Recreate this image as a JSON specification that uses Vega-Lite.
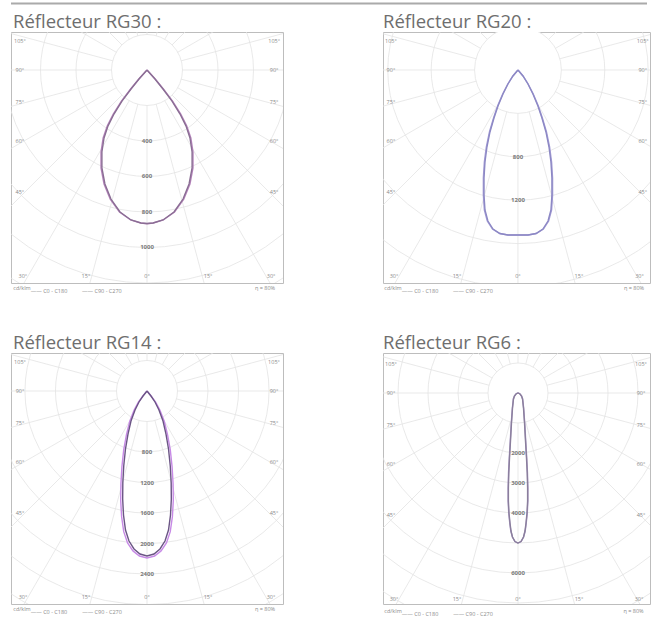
{
  "$schema": "https://vega.github.io/schema/vega-lite/v6.json",
  "background": "white",
  "padding": {"left": 10, "top": 2, "right": 0, "bottom": 0},
  "config": {
    "view": {"stroke": "#bdbdbd", "strokeWidth": 1},
    "title": {"anchor": "start", "font": "Open Sans", "fontSize": 18.5, "fontWeight": "normal", "color": "#6e6e6e", "offset": 3, "baseline": "alphabetic", "dy": 2},
    "text": {"font": "Open Sans"}
  },
  "datasets": {
    "rays": [{"ox":0,"oy":0,"ex":0,"ey":20000},{"ox":0,"oy":0,"ex":5176,"ey":19319},{"ox":0,"oy":0,"ex":10000,"ey":17321},{"ox":0,"oy":0,"ex":14142,"ey":14142},{"ox":0,"oy":0,"ex":17321,"ey":10000},{"ox":0,"oy":0,"ex":19319,"ey":5176},{"ox":0,"oy":0,"ex":20000,"ey":0},{"ox":0,"oy":0,"ex":19319,"ey":-5176},{"ox":0,"oy":0,"ex":17321,"ey":-10000},{"ox":0,"oy":0,"ex":14142,"ey":-14142},{"ox":0,"oy":0,"ex":10000,"ey":-17321},{"ox":0,"oy":0,"ex":5176,"ey":-19319},{"ox":0,"oy":0,"ex":0,"ey":-20000},{"ox":0,"oy":0,"ex":-5176,"ey":-19319},{"ox":0,"oy":0,"ex":-10000,"ey":-17321},{"ox":0,"oy":0,"ex":-14142,"ey":-14142},{"ox":0,"oy":0,"ex":-17321,"ey":-10000},{"ox":0,"oy":0,"ex":-19319,"ey":-5176},{"ox":0,"oy":0,"ex":-20000,"ey":0},{"ox":0,"oy":0,"ex":-19319,"ey":5176},{"ox":0,"oy":0,"ex":-17321,"ey":10000},{"ox":0,"oy":0,"ex":-14142,"ey":14142},{"ox":0,"oy":0,"ex":-10000,"ey":17321},{"ox":0,"oy":0,"ex":-5176,"ey":19319}]
  },
  "spacing": 37,
  "resolve": {"scale": {"x": "independent", "y": "independent", "size": "independent", "color": "independent"}},
  "vconcat": [
    {
      "spacing": 7,
      "resolve": {"scale": {"x": "independent", "y": "independent", "size": "independent", "color": "independent"}},
      "vconcat": [
        {
          "width": 636, "height": 1,
          "view": {"stroke": null},
          "data": {"values": [{"v": 0}]},
          "mark": {"type": "rule", "color": "#aaaaaa", "strokeWidth": 2},
          "encoding": {"y": {"field": "v", "type": "quantitative", "axis": null}}
        },
        {
          "spacing": 98,
          "resolve": {"scale": {"x": "independent", "y": "independent", "size": "independent", "color": "independent"}},
          "hconcat": [
            {
              "width": 272, "height": 251,
              "title": {"text": "Réflecteur RG30 :", "dx": 2},
              "layer": [
                {"data": {"name": "rays"}, "mark": {"type": "rule", "clip": true, "color": "#e3e3e3", "strokeWidth": 0.8},
                 "encoding": {"x": {"field": "ox", "type": "quantitative", "scale": {"domain": [-766, 766], "nice": false, "zero": false}, "axis": null},
                              "y": {"field": "oy", "type": "quantitative", "scale": {"domain": [-214, 1200], "reverse": true, "nice": false, "zero": false}, "axis": null},
                              "x2": {"field": "ex"}, "y2": {"field": "ey"}}},
                {"data": {"values": [{"cx":0,"cy":0,"r":200}]},
                 "mark": {"type": "point", "filled": true, "clip": true, "color": "white", "opacity": 1},
                 "encoding": {"x": {"field": "cx", "type": "quantitative"}, "y": {"field": "cy", "type": "quantitative"},
                              "size": {"field": "r", "type": "quantitative", "legend": null}}},
                {"data": {"values": [{"cx":0,"cy":0,"r":200},{"cx":0,"cy":0,"r":400},{"cx":0,"cy":0,"r":600},{"cx":0,"cy":0,"r":800},{"cx":0,"cy":0,"r":1000},{"cx":0,"cy":0,"r":1200},{"cx":0,"cy":0,"r":1400}]},
                 "mark": {"type": "point", "filled": false, "clip": true, "color": "#e3e3e3", "opacity": 1, "strokeWidth": 0.8},
                 "encoding": {"x": {"field": "cx", "type": "quantitative"}, "y": {"field": "cy", "type": "quantitative"},
                              "size": {"field": "r", "type": "quantitative", "scale": {"type": "pow", "exponent": 2, "domain": [0, 1400], "range": [0, 247009]}, "legend": null}}},
                {"data": {"values": [{"x":0,"v":400,"t":"400"},{"x":0,"v":600,"t":"600"},{"x":0,"v":800,"t":"800"},{"x":0,"v":1000,"t":"1000"}]},
                 "mark": {"type": "text", "fontSize": 6, "color": "#7a7a7a", "fontWeight": "bold"},
                 "encoding": {"x": {"field": "x", "type": "quantitative"}, "y": {"field": "v", "type": "quantitative"}, "text": {"field": "t", "type": "nominal"}}},
                {"data": {"values": [
                  {"s":"C0 - C180","i":0,"x":0,"y":0},{"s":"C0 - C180","i":1,"x":46,"y":51},{"s":"C0 - C180","i":2,"x":92,"y":107},{"s":"C0 - C180","i":3,"x":144,"y":175},{"s":"C0 - C180","i":4,"x":190,"y":248},{"s":"C0 - C180","i":5,"x":224,"y":316},{"s":"C0 - C180","i":6,"x":247,"y":383},{"s":"C0 - C180","i":7,"x":259,"y":462},{"s":"C0 - C180","i":8,"x":259,"y":552},{"s":"C0 - C180","i":9,"x":242,"y":642},{"s":"C0 - C180","i":10,"x":207,"y":727},{"s":"C0 - C180","i":11,"x":155,"y":800},{"s":"C0 - C180","i":12,"x":92,"y":845},{"s":"C0 - C180","i":13,"x":35,"y":862},{"s":"C0 - C180","i":14,"x":0,"y":866},{"s":"C0 - C180","i":15,"x":-35,"y":862},{"s":"C0 - C180","i":16,"x":-92,"y":845},{"s":"C0 - C180","i":17,"x":-155,"y":800},{"s":"C0 - C180","i":18,"x":-207,"y":727},{"s":"C0 - C180","i":19,"x":-242,"y":642},{"s":"C0 - C180","i":20,"x":-259,"y":552},{"s":"C0 - C180","i":21,"x":-259,"y":462},{"s":"C0 - C180","i":22,"x":-247,"y":383},{"s":"C0 - C180","i":23,"x":-224,"y":316},{"s":"C0 - C180","i":24,"x":-190,"y":248},{"s":"C0 - C180","i":25,"x":-144,"y":175},{"s":"C0 - C180","i":26,"x":-92,"y":107},{"s":"C0 - C180","i":27,"x":-46,"y":51},{"s":"C0 - C180","i":28,"x":0,"y":0},
                  {"s":"C90 - C270","i":0,"x":0,"y":0},{"s":"C90 - C270","i":1,"x":45,"y":51},{"s":"C90 - C270","i":2,"x":90,"y":107},{"s":"C90 - C270","i":3,"x":141,"y":175},{"s":"C90 - C270","i":4,"x":186,"y":248},{"s":"C90 - C270","i":5,"x":220,"y":316},{"s":"C90 - C270","i":6,"x":242,"y":383},{"s":"C90 - C270","i":7,"x":254,"y":462},{"s":"C90 - C270","i":8,"x":254,"y":552},{"s":"C90 - C270","i":9,"x":237,"y":642},{"s":"C90 - C270","i":10,"x":203,"y":727},{"s":"C90 - C270","i":11,"x":152,"y":800},{"s":"C90 - C270","i":12,"x":90,"y":845},{"s":"C90 - C270","i":13,"x":34,"y":862},{"s":"C90 - C270","i":14,"x":0,"y":865},{"s":"C90 - C270","i":15,"x":-34,"y":862},{"s":"C90 - C270","i":16,"x":-90,"y":845},{"s":"C90 - C270","i":17,"x":-152,"y":800},{"s":"C90 - C270","i":18,"x":-203,"y":727},{"s":"C90 - C270","i":19,"x":-237,"y":642},{"s":"C90 - C270","i":20,"x":-254,"y":552},{"s":"C90 - C270","i":21,"x":-254,"y":462},{"s":"C90 - C270","i":22,"x":-242,"y":383},{"s":"C90 - C270","i":23,"x":-220,"y":316},{"s":"C90 - C270","i":24,"x":-186,"y":248},{"s":"C90 - C270","i":25,"x":-141,"y":175},{"s":"C90 - C270","i":26,"x":-90,"y":107},{"s":"C90 - C270","i":27,"x":-45,"y":51},{"s":"C90 - C270","i":28,"x":0,"y":0}
                 ]},
                 "mark": {"type": "line", "strokeWidth": 1.4},
                 "encoding": {"x": {"field": "x", "type": "quantitative"}, "y": {"field": "y", "type": "quantitative"},
                              "color": {"field": "s", "type": "nominal", "scale": {"domain": ["C0 - C180", "C90 - C270"], "range": ["#b785bd", "#8a6e94"]}, "legend": null},
                              "order": {"field": "i", "type": "quantitative"}}},
                {"data": {"values": [
                  {"x":-716,"y":-163,"t":"105°"},{"x":-716,"y":0,"t":"90°"},{"x":-716,"y":180,"t":"75°"},{"x":-716,"y":400,"t":"60°"},{"x":-716,"y":687,"t":"45°"},
                  {"x":716,"y":-163,"t":"105°"},{"x":716,"y":0,"t":"90°"},{"x":716,"y":180,"t":"75°"},{"x":716,"y":400,"t":"60°"},{"x":716,"y":687,"t":"45°"},
                  {"x":-699,"y":1161,"t":"30°"},{"x":-344,"y":1161,"t":"15°"},{"x":0,"y":1161,"t":"0°"},{"x":344,"y":1161,"t":"15°"},{"x":699,"y":1161,"t":"30°"},
                  {"x":-704,"y":1228,"t":"cd/klm"},{"x":-552,"y":1245,"t":"—— C0 - C180"},{"x":-254,"y":1245,"t":"—— C90 - C270"},{"x":665,"y":1228,"t":"η = 80%"}
                 ]},
                 "mark": {"type": "text", "fontSize": 5.5, "color": "#8a8a8a"},
                 "encoding": {"x": {"field": "x", "type": "quantitative"}, "y": {"field": "y", "type": "quantitative"}, "text": {"field": "t", "type": "nominal"}}}
              ]
            },
            {
              "width": 267, "height": 251,
              "title": {"text": "Réflecteur RG20 :", "dx": 0},
              "layer": [
                {"data": {"name": "rays"}, "mark": {"type": "rule", "clip": true, "color": "#e3e3e3", "strokeWidth": 0.8},
                 "encoding": {"x": {"field": "ox", "type": "quantitative", "scale": {"domain": [-1244, 1217], "nice": false, "zero": false}, "axis": null},
                              "y": {"field": "oy", "type": "quantitative", "scale": {"domain": [-350, 1963], "reverse": true, "nice": false, "zero": false}, "axis": null},
                              "x2": {"field": "ex"}, "y2": {"field": "ey"}}},
                {"data": {"values": [{"cx":0,"cy":0,"r":400}]},
                 "mark": {"type": "point", "filled": true, "clip": true, "color": "white", "opacity": 1},
                 "encoding": {"x": {"field": "cx", "type": "quantitative"}, "y": {"field": "cy", "type": "quantitative"},
                              "size": {"field": "r", "type": "quantitative", "legend": null}}},
                {"data": {"values": [{"cx":0,"cy":0,"r":400},{"cx":0,"cy":0,"r":800},{"cx":0,"cy":0,"r":1200},{"cx":0,"cy":0,"r":1600},{"cx":0,"cy":0,"r":2000},{"cx":0,"cy":0,"r":2400}]},
                 "mark": {"type": "point", "filled": false, "clip": true, "color": "#e3e3e3", "opacity": 1, "strokeWidth": 0.8},
                 "encoding": {"x": {"field": "cx", "type": "quantitative"}, "y": {"field": "cy", "type": "quantitative"},
                              "size": {"field": "r", "type": "quantitative", "scale": {"type": "pow", "exponent": 2, "domain": [0, 2400], "range": [0, 271233]}, "legend": null}}},
                {"data": {"values": [{"x":0,"v":800,"t":"800"},{"x":0,"v":1200,"t":"1200"}]},
                 "mark": {"type": "text", "fontSize": 6, "color": "#7a7a7a", "fontWeight": "bold"},
                 "encoding": {"x": {"field": "x", "type": "quantitative"}, "y": {"field": "v", "type": "quantitative"}, "text": {"field": "t", "type": "nominal"}}},
                {"data": {"values": [
                  {"s":"C0 - C180","i":0,"x":0,"y":0},{"s":"C0 - C180","i":1,"x":47,"y":55},{"s":"C0 - C180","i":2,"x":94,"y":129},{"s":"C0 - C180","i":3,"x":141,"y":221},{"s":"C0 - C180","i":4,"x":188,"y":332},{"s":"C0 - C180","i":5,"x":225,"y":442},{"s":"C0 - C180","i":6,"x":263,"y":571},{"s":"C0 - C180","i":7,"x":292,"y":710},{"s":"C0 - C180","i":8,"x":310,"y":848},{"s":"C0 - C180","i":9,"x":319,"y":995},{"s":"C0 - C180","i":10,"x":319,"y":1152},{"s":"C0 - C180","i":11,"x":310,"y":1290},{"s":"C0 - C180","i":12,"x":283,"y":1392},{"s":"C0 - C180","i":13,"x":235,"y":1466},{"s":"C0 - C180","i":14,"x":169,"y":1507},{"s":"C0 - C180","i":15,"x":94,"y":1521},{"s":"C0 - C180","i":16,"x":0,"y":1521},{"s":"C0 - C180","i":17,"x":-94,"y":1521},{"s":"C0 - C180","i":18,"x":-169,"y":1507},{"s":"C0 - C180","i":19,"x":-235,"y":1466},{"s":"C0 - C180","i":20,"x":-283,"y":1392},{"s":"C0 - C180","i":21,"x":-310,"y":1290},{"s":"C0 - C180","i":22,"x":-319,"y":1152},{"s":"C0 - C180","i":23,"x":-319,"y":995},{"s":"C0 - C180","i":24,"x":-310,"y":848},{"s":"C0 - C180","i":25,"x":-292,"y":710},{"s":"C0 - C180","i":26,"x":-263,"y":571},{"s":"C0 - C180","i":27,"x":-225,"y":442},{"s":"C0 - C180","i":28,"x":-188,"y":332},{"s":"C0 - C180","i":29,"x":-141,"y":221},{"s":"C0 - C180","i":30,"x":-94,"y":129},{"s":"C0 - C180","i":31,"x":-47,"y":55},{"s":"C0 - C180","i":32,"x":0,"y":0},
                  {"s":"C90 - C270","i":0,"x":0,"y":0},{"s":"C90 - C270","i":1,"x":46,"y":55},{"s":"C90 - C270","i":2,"x":92,"y":129},{"s":"C90 - C270","i":3,"x":138,"y":221},{"s":"C90 - C270","i":4,"x":184,"y":332},{"s":"C90 - C270","i":5,"x":221,"y":442},{"s":"C90 - C270","i":6,"x":258,"y":571},{"s":"C90 - C270","i":7,"x":286,"y":710},{"s":"C90 - C270","i":8,"x":304,"y":848},{"s":"C90 - C270","i":9,"x":313,"y":995},{"s":"C90 - C270","i":10,"x":313,"y":1152},{"s":"C90 - C270","i":11,"x":304,"y":1290},{"s":"C90 - C270","i":12,"x":277,"y":1392},{"s":"C90 - C270","i":13,"x":230,"y":1466},{"s":"C90 - C270","i":14,"x":166,"y":1507},{"s":"C90 - C270","i":15,"x":92,"y":1521},{"s":"C90 - C270","i":16,"x":0,"y":1521},{"s":"C90 - C270","i":17,"x":-92,"y":1521},{"s":"C90 - C270","i":18,"x":-166,"y":1507},{"s":"C90 - C270","i":19,"x":-230,"y":1466},{"s":"C90 - C270","i":20,"x":-277,"y":1392},{"s":"C90 - C270","i":21,"x":-304,"y":1290},{"s":"C90 - C270","i":22,"x":-313,"y":1152},{"s":"C90 - C270","i":23,"x":-313,"y":995},{"s":"C90 - C270","i":24,"x":-304,"y":848},{"s":"C90 - C270","i":25,"x":-286,"y":710},{"s":"C90 - C270","i":26,"x":-258,"y":571},{"s":"C90 - C270","i":27,"x":-221,"y":442},{"s":"C90 - C270","i":28,"x":-184,"y":332},{"s":"C90 - C270","i":29,"x":-138,"y":221},{"s":"C90 - C270","i":30,"x":-92,"y":129},{"s":"C90 - C270","i":31,"x":-46,"y":55},{"s":"C90 - C270","i":32,"x":0,"y":0}
                 ]},
                 "mark": {"type": "line", "strokeWidth": 1.4},
                 "encoding": {"x": {"field": "x", "type": "quantitative"}, "y": {"field": "y", "type": "quantitative"},
                              "color": {"field": "s", "type": "nominal", "scale": {"domain": ["C0 - C180", "C90 - C270"], "range": ["#a8a0d8", "#8c88c4"]}, "legend": null},
                              "order": {"field": "i", "type": "quantitative"}}},
                {"data": {"values": [
                  {"x":-1171,"y":-267,"t":"105°"},{"x":-1171,"y":0,"t":"90°"},{"x":-1171,"y":295,"t":"75°"},{"x":-1171,"y":654,"t":"60°"},{"x":-1171,"y":1124,"t":"45°"},
                  {"x":1150,"y":-267,"t":"105°"},{"x":1150,"y":0,"t":"90°"},{"x":1150,"y":295,"t":"75°"},{"x":1150,"y":654,"t":"60°"},{"x":1150,"y":1124,"t":"45°"},
                  {"x":-1143,"y":1899,"t":"30°"},{"x":-562,"y":1899,"t":"15°"},{"x":0,"y":1899,"t":"0°"},{"x":562,"y":1899,"t":"15°"},{"x":1120,"y":1899,"t":"30°"},
                  {"x":-1152,"y":2009,"t":"cd/klm"},{"x":-903,"y":2037,"t":"—— C0 - C180"},{"x":-415,"y":2037,"t":"—— C90 - C270"},{"x":1070,"y":2009,"t":"η = 80%"}
                 ]},
                 "mark": {"type": "text", "fontSize": 5.5, "color": "#8a8a8a"},
                 "encoding": {"x": {"field": "x", "type": "quantitative"}, "y": {"field": "y", "type": "quantitative"}, "text": {"field": "t", "type": "nominal"}}}
              ]
            }
          ]
        }
      ]
    },
    {
      "spacing": 98,
      "resolve": {"scale": {"x": "independent", "y": "independent", "size": "independent", "color": "independent"}},
      "hconcat": [
        {
          "width": 272, "height": 251,
          "title": {"text": "Réflecteur RG14 :", "dx": 2},
          "layer": [
            {"data": {"name": "rays"}, "mark": {"type": "rule", "clip": true, "color": "#e3e3e3", "strokeWidth": 0.8},
             "encoding": {"x": {"field": "ox", "type": "quantitative", "scale": {"domain": [-1783, 1783], "nice": false, "zero": false}, "axis": null},
                          "y": {"field": "oy", "type": "quantitative", "scale": {"domain": [-498, 2792], "reverse": true, "nice": false, "zero": false}, "axis": null},
                          "x2": {"field": "ex"}, "y2": {"field": "ey"}}},
            {"data": {"values": [{"cx":0,"cy":0,"r":400}]},
             "mark": {"type": "point", "filled": true, "clip": true, "color": "white", "opacity": 1},
             "encoding": {"x": {"field": "cx", "type": "quantitative"}, "y": {"field": "cy", "type": "quantitative"},
                          "size": {"field": "r", "type": "quantitative", "legend": null}}},
            {"data": {"values": [{"cx":0,"cy":0,"r":400},{"cx":0,"cy":0,"r":800},{"cx":0,"cy":0,"r":1200},{"cx":0,"cy":0,"r":1600},{"cx":0,"cy":0,"r":2000},{"cx":0,"cy":0,"r":2400},{"cx":0,"cy":0,"r":2800},{"cx":0,"cy":0,"r":3200}]},
             "mark": {"type": "point", "filled": false, "clip": true, "color": "#e3e3e3", "opacity": 1, "strokeWidth": 0.8},
             "encoding": {"x": {"field": "cx", "type": "quantitative"}, "y": {"field": "cy", "type": "quantitative"},
                          "size": {"field": "r", "type": "quantitative", "scale": {"type": "pow", "exponent": 2, "domain": [0, 3200], "range": [0, 238320]}, "legend": null}}},
            {"data": {"values": [{"x":0,"v":800,"t":"800"},{"x":0,"v":1200,"t":"1200"},{"x":0,"v":1600,"t":"1600"},{"x":0,"v":2000,"t":"2000"},{"x":0,"v":2400,"t":"2400"}]},
             "mark": {"type": "text", "fontSize": 6, "color": "#7a7a7a", "fontWeight": "bold"},
             "encoding": {"x": {"field": "x", "type": "quantitative"}, "y": {"field": "v", "type": "quantitative"}, "text": {"field": "t", "type": "nominal"}}},
            {"data": {"values": [
              {"s":"C0 - C180","i":0,"x":0,"y":0},{"s":"C0 - C180","i":1,"x":56,"y":67},{"s":"C0 - C180","i":2,"x":113,"y":146},{"s":"C0 - C180","i":3,"x":170,"y":252},{"s":"C0 - C180","i":4,"x":227,"y":398},{"s":"C0 - C180","i":5,"x":269,"y":571},{"s":"C0 - C180","i":6,"x":305,"y":769},{"s":"C0 - C180","i":7,"x":329,"y":995},{"s":"C0 - C180","i":8,"x":342,"y":1220},{"s":"C0 - C180","i":9,"x":345,"y":1433},{"s":"C0 - C180","i":10,"x":333,"y":1646},{"s":"C0 - C180","i":11,"x":305,"y":1844},{"s":"C0 - C180","i":12,"x":255,"y":1991},{"s":"C0 - C180","i":13,"x":184,"y":2096},{"s":"C0 - C180","i":14,"x":99,"y":2163},{"s":"C0 - C180","i":15,"x":0,"y":2189},{"s":"C0 - C180","i":16,"x":-99,"y":2163},{"s":"C0 - C180","i":17,"x":-184,"y":2096},{"s":"C0 - C180","i":18,"x":-255,"y":1991},{"s":"C0 - C180","i":19,"x":-305,"y":1844},{"s":"C0 - C180","i":20,"x":-333,"y":1646},{"s":"C0 - C180","i":21,"x":-345,"y":1433},{"s":"C0 - C180","i":22,"x":-342,"y":1220},{"s":"C0 - C180","i":23,"x":-329,"y":995},{"s":"C0 - C180","i":24,"x":-305,"y":769},{"s":"C0 - C180","i":25,"x":-269,"y":571},{"s":"C0 - C180","i":26,"x":-227,"y":398},{"s":"C0 - C180","i":27,"x":-170,"y":252},{"s":"C0 - C180","i":28,"x":-113,"y":146},{"s":"C0 - C180","i":29,"x":-56,"y":67},{"s":"C0 - C180","i":30,"x":0,"y":0},
              {"s":"C90 - C270","i":0,"x":0,"y":0},{"s":"C90 - C270","i":1,"x":52,"y":66},{"s":"C90 - C270","i":2,"x":105,"y":144},{"s":"C90 - C270","i":3,"x":157,"y":249},{"s":"C90 - C270","i":4,"x":210,"y":393},{"s":"C90 - C270","i":5,"x":249,"y":564},{"s":"C90 - C270","i":6,"x":282,"y":760},{"s":"C90 - C270","i":7,"x":305,"y":983},{"s":"C90 - C270","i":8,"x":317,"y":1206},{"s":"C90 - C270","i":9,"x":319,"y":1416},{"s":"C90 - C270","i":10,"x":308,"y":1626},{"s":"C90 - C270","i":11,"x":282,"y":1822},{"s":"C90 - C270","i":12,"x":236,"y":1967},{"s":"C90 - C270","i":13,"x":170,"y":2071},{"s":"C90 - C270","i":14,"x":92,"y":2137},{"s":"C90 - C270","i":15,"x":0,"y":2163},{"s":"C90 - C270","i":16,"x":-92,"y":2137},{"s":"C90 - C270","i":17,"x":-170,"y":2071},{"s":"C90 - C270","i":18,"x":-236,"y":1967},{"s":"C90 - C270","i":19,"x":-282,"y":1822},{"s":"C90 - C270","i":20,"x":-308,"y":1626},{"s":"C90 - C270","i":21,"x":-319,"y":1416},{"s":"C90 - C270","i":22,"x":-317,"y":1206},{"s":"C90 - C270","i":23,"x":-305,"y":983},{"s":"C90 - C270","i":24,"x":-282,"y":760},{"s":"C90 - C270","i":25,"x":-249,"y":564},{"s":"C90 - C270","i":26,"x":-210,"y":393},{"s":"C90 - C270","i":27,"x":-157,"y":249},{"s":"C90 - C270","i":28,"x":-105,"y":144},{"s":"C90 - C270","i":29,"x":-52,"y":66},{"s":"C90 - C270","i":30,"x":0,"y":0}
             ]},
             "mark": {"type": "line", "strokeWidth": 1.4},
             "encoding": {"x": {"field": "x", "type": "quantitative"}, "y": {"field": "y", "type": "quantitative"},
                          "color": {"field": "s", "type": "nominal", "scale": {"domain": ["C0 - C180", "C90 - C270"], "range": ["#c78ae6", "#6b5585"]}, "legend": null},
                          "order": {"field": "i", "type": "quantitative"}}},
            {"data": {"values": [
              {"x":-1665,"y":-380,"t":"105°"},{"x":-1665,"y":0,"t":"90°"},{"x":-1665,"y":420,"t":"75°"},{"x":-1665,"y":931,"t":"60°"},{"x":-1665,"y":1599,"t":"45°"},
              {"x":1665,"y":-380,"t":"105°"},{"x":1665,"y":0,"t":"90°"},{"x":1665,"y":420,"t":"75°"},{"x":1665,"y":931,"t":"60°"},{"x":1665,"y":1599,"t":"45°"},
              {"x":-1626,"y":2701,"t":"30°"},{"x":-800,"y":2701,"t":"15°"},{"x":0,"y":2701,"t":"0°"},{"x":800,"y":2701,"t":"15°"},{"x":1626,"y":2701,"t":"30°"},
              {"x":-1639,"y":2858,"t":"cd/klm"},{"x":-1285,"y":2897,"t":"—— C0 - C180"},{"x":-590,"y":2897,"t":"—— C90 - C270"},{"x":1547,"y":2858,"t":"η = 80%"}
             ]},
             "mark": {"type": "text", "fontSize": 5.5, "color": "#8a8a8a"},
             "encoding": {"x": {"field": "x", "type": "quantitative"}, "y": {"field": "y", "type": "quantitative"}, "text": {"field": "t", "type": "nominal"}}}
          ]
        },
        {
          "width": 267, "height": 251,
          "title": {"text": "Réflecteur RG6 :", "dx": 0},
          "layer": [
            {"data": {"name": "rays"}, "mark": {"type": "rule", "clip": true, "color": "#e3e3e3", "strokeWidth": 0.8},
             "encoding": {"x": {"field": "ox", "type": "quantitative", "scale": {"domain": [-4500, 4400], "nice": false, "zero": false}, "axis": null},
                          "y": {"field": "oy", "type": "quantitative", "scale": {"domain": [-1333, 7033], "reverse": true, "nice": false, "zero": false}, "axis": null},
                          "x2": {"field": "ex"}, "y2": {"field": "ey"}}},
            {"data": {"values": [{"cx":0,"cy":0,"r":1000}]},
             "mark": {"type": "point", "filled": true, "clip": true, "color": "white", "opacity": 1},
             "encoding": {"x": {"field": "cx", "type": "quantitative"}, "y": {"field": "cy", "type": "quantitative"},
                          "size": {"field": "r", "type": "quantitative", "legend": null}}},
            {"data": {"values": [{"cx":0,"cy":0,"r":1000},{"cx":0,"cy":0,"r":2000},{"cx":0,"cy":0,"r":3000},{"cx":0,"cy":0,"r":4000},{"cx":0,"cy":0,"r":5000},{"cx":0,"cy":0,"r":6000},{"cx":0,"cy":0,"r":7000},{"cx":0,"cy":0,"r":8000}]},
             "mark": {"type": "point", "filled": false, "clip": true, "color": "#e3e3e3", "opacity": 1, "strokeWidth": 0.8},
             "encoding": {"x": {"field": "cx", "type": "quantitative"}, "y": {"field": "cy", "type": "quantitative"},
                          "size": {"field": "r", "type": "quantitative", "scale": {"type": "pow", "exponent": 2, "domain": [0, 8000], "range": [0, 230400]}, "legend": null}}},
            {"data": {"values": [{"x":0,"v":2000,"t":"2000"},{"x":0,"v":3000,"t":"3000"},{"x":0,"v":4000,"t":"4000"},{"x":0,"v":6000,"t":"6000"}]},
             "mark": {"type": "text", "fontSize": 6, "color": "#7a7a7a", "fontWeight": "bold"},
             "encoding": {"x": {"field": "x", "type": "quantitative"}, "y": {"field": "v", "type": "quantitative"}, "text": {"field": "t", "type": "nominal"}}},
            {"data": {"values": [
              {"s":"C0 - C180","i":0,"x":0,"y":0},{"s":"C0 - C180","i":1,"x":69,"y":33},{"s":"C0 - C180","i":2,"x":121,"y":100},{"s":"C0 - C180","i":3,"x":155,"y":200},{"s":"C0 - C180","i":4,"x":188,"y":500},{"s":"C0 - C180","i":5,"x":224,"y":1000},{"s":"C0 - C180","i":6,"x":258,"y":1600},{"s":"C0 - C180","i":7,"x":291,"y":2167},{"s":"C0 - C180","i":8,"x":316,"y":2667},{"s":"C0 - C180","i":9,"x":330,"y":3167},{"s":"C0 - C180","i":10,"x":330,"y":3600},{"s":"C0 - C180","i":11,"x":309,"y":4000},{"s":"C0 - C180","i":12,"x":275,"y":4333},{"s":"C0 - C180","i":13,"x":240,"y":4600},{"s":"C0 - C180","i":14,"x":188,"y":4800},{"s":"C0 - C180","i":15,"x":103,"y":4950},{"s":"C0 - C180","i":16,"x":0,"y":5000},{"s":"C0 - C180","i":17,"x":-103,"y":4950},{"s":"C0 - C180","i":18,"x":-188,"y":4800},{"s":"C0 - C180","i":19,"x":-240,"y":4600},{"s":"C0 - C180","i":20,"x":-275,"y":4333},{"s":"C0 - C180","i":21,"x":-309,"y":4000},{"s":"C0 - C180","i":22,"x":-330,"y":3600},{"s":"C0 - C180","i":23,"x":-330,"y":3167},{"s":"C0 - C180","i":24,"x":-316,"y":2667},{"s":"C0 - C180","i":25,"x":-291,"y":2167},{"s":"C0 - C180","i":26,"x":-258,"y":1600},{"s":"C0 - C180","i":27,"x":-224,"y":1000},{"s":"C0 - C180","i":28,"x":-188,"y":500},{"s":"C0 - C180","i":29,"x":-155,"y":200},{"s":"C0 - C180","i":30,"x":-121,"y":100},{"s":"C0 - C180","i":31,"x":-69,"y":33},{"s":"C0 - C180","i":32,"x":0,"y":0},
              {"s":"C90 - C270","i":0,"x":0,"y":0},{"s":"C90 - C270","i":1,"x":67,"y":33},{"s":"C90 - C270","i":2,"x":117,"y":100},{"s":"C90 - C270","i":3,"x":150,"y":200},{"s":"C90 - C270","i":4,"x":183,"y":500},{"s":"C90 - C270","i":5,"x":217,"y":1000},{"s":"C90 - C270","i":6,"x":250,"y":1600},{"s":"C90 - C270","i":7,"x":283,"y":2167},{"s":"C90 - C270","i":8,"x":307,"y":2667},{"s":"C90 - C270","i":9,"x":320,"y":3167},{"s":"C90 - C270","i":10,"x":320,"y":3600},{"s":"C90 - C270","i":11,"x":300,"y":4000},{"s":"C90 - C270","i":12,"x":267,"y":4333},{"s":"C90 - C270","i":13,"x":233,"y":4600},{"s":"C90 - C270","i":14,"x":183,"y":4800},{"s":"C90 - C270","i":15,"x":100,"y":4950},{"s":"C90 - C270","i":16,"x":0,"y":5000},{"s":"C90 - C270","i":17,"x":-100,"y":4950},{"s":"C90 - C270","i":18,"x":-183,"y":4800},{"s":"C90 - C270","i":19,"x":-233,"y":4600},{"s":"C90 - C270","i":20,"x":-267,"y":4333},{"s":"C90 - C270","i":21,"x":-300,"y":4000},{"s":"C90 - C270","i":22,"x":-320,"y":3600},{"s":"C90 - C270","i":23,"x":-320,"y":3167},{"s":"C90 - C270","i":24,"x":-307,"y":2667},{"s":"C90 - C270","i":25,"x":-283,"y":2167},{"s":"C90 - C270","i":26,"x":-250,"y":1600},{"s":"C90 - C270","i":27,"x":-217,"y":1000},{"s":"C90 - C270","i":28,"x":-183,"y":500},{"s":"C90 - C270","i":29,"x":-150,"y":200},{"s":"C90 - C270","i":30,"x":-117,"y":100},{"s":"C90 - C270","i":31,"x":-67,"y":33},{"s":"C90 - C270","i":32,"x":0,"y":0}
             ]},
             "mark": {"type": "line", "strokeWidth": 1.4},
             "encoding": {"x": {"field": "x", "type": "quantitative"}, "y": {"field": "y", "type": "quantitative"},
                          "color": {"field": "s", "type": "nominal", "scale": {"domain": ["C0 - C180", "C90 - C270"], "range": ["#a898c4", "#8a7e9c"]}, "legend": null},
                          "order": {"field": "i", "type": "quantitative"}}},
            {"data": {"values": [
              {"x":-4233,"y":-967,"t":"105°"},{"x":-4233,"y":0,"t":"90°"},{"x":-4233,"y":1067,"t":"75°"},{"x":-4233,"y":2367,"t":"60°"},{"x":-4233,"y":4067,"t":"45°"},
              {"x":4100,"y":-967,"t":"105°"},{"x":4100,"y":0,"t":"90°"},{"x":4100,"y":1067,"t":"75°"},{"x":4100,"y":2367,"t":"60°"},{"x":4100,"y":4067,"t":"45°"},
              {"x":-4133,"y":6866,"t":"30°"},{"x":-2033,"y":6866,"t":"15°"},{"x":0,"y":6866,"t":"0°"},{"x":2033,"y":6866,"t":"15°"},{"x":4033,"y":6866,"t":"30°"},
              {"x":-4166,"y":7266,"t":"cd/klm"},{"x":-3266,"y":7366,"t":"—— C0 - C180"},{"x":-1500,"y":7366,"t":"—— C90 - C270"},{"x":3850,"y":7266,"t":"η = 80%"}
             ]},
             "mark": {"type": "text", "fontSize": 5.5, "color": "#8a8a8a"},
             "encoding": {"x": {"field": "x", "type": "quantitative"}, "y": {"field": "y", "type": "quantitative"}, "text": {"field": "t", "type": "nominal"}}}
          ]
        }
      ]
    }
  ]
}
